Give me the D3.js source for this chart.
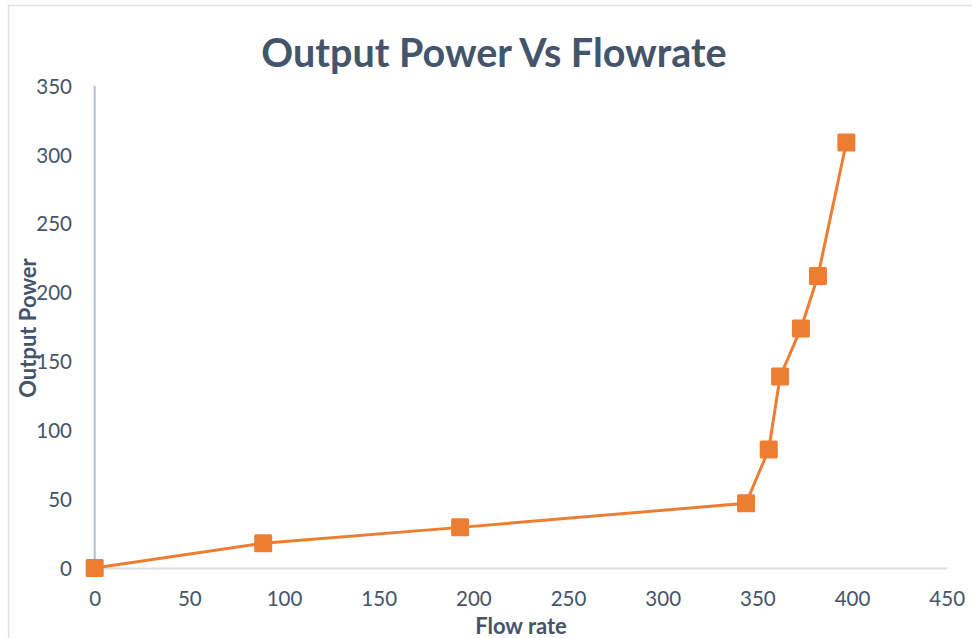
<!DOCTYPE html>
<html>
<head>
<meta charset="utf-8">
<script src="https://cdn.jsdelivr.net/npm/d3@7"></script>
<style>
    body { margin: 0; background: #fff; }
    svg { display: block; font-family: Lato, "Open Sans", sans-serif; }
</style>
</head>
<body>
<svg></svg>
<script>
// Data
let flowRate = [0, 89, 193, 344, 356, 362, 373, 382, 397]
let outputPower = [0, 18, 29.5, 47, 86, 139, 174, 212, 309]
let xTicks = [0, 50, 100, 150, 200, 250, 300, 350, 400, 450]
let yTicks = [0, 50, 100, 150, 200, 250, 300, 350]

let dataset = flowRate.map((d, i) => ({ x: d, y: outputPower[i] }))

// Dimensions
let width = 972
let height = 638
let textColor = '#44546a'
let orange = '#ed7d31'

let scale = {
    x: d3.scaleLinear().domain([0, 450]).range([94.7, 946.7]),
    y: d3.scaleLinear().domain([0, 350]).range([568, 86])
}

let svg = d3.select('svg')
    .attr('width', width)
    .attr('height', height)

// Chart frame (only top & left visible)
svg.append('rect')
    .attr('x', 8.5)
    .attr('y', 5.5)
    .attr('width', 1000)
    .attr('height', 700)
    .attr('fill', 'none')
    .attr('stroke', '#dde1e6')
    .attr('stroke-width', 1.5)

// X axis
let axisX = svg.append('g')
    .attr('transform', `translate(0,${scale.y(0)})`)
    .call(d3.axisBottom(scale.x).tickValues(xTicks).tickSize(0).tickPadding(23))
axisX.select('.domain').attr('stroke', '#d9dde4').attr('stroke-width', 2)
axisX.selectAll('text')
    .attr('fill', textColor)
    .style('font-size', '20.5px')
    .style('font-family', 'Lato, sans-serif')

// Y axis (labels only, line drawn at x = 0)
let axisY = svg.append('g')
    .attr('transform', 'translate(72,0)')
    .call(d3.axisLeft(scale.y).tickValues(yTicks).tickSize(0).tickPadding(0))
axisY.select('.domain').remove()
axisY.selectAll('text')
    .attr('fill', textColor)
    .attr('dy', '0.35em')
    .style('font-size', '20.5px')
    .style('font-family', 'Lato, sans-serif')

svg.append('line')
    .attr('x1', scale.x(0))
    .attr('x2', scale.x(0))
    .attr('y1', scale.y(350))
    .attr('y2', scale.y(0))
    .attr('stroke', '#b4bfd6')
    .attr('stroke-width', 2)

// Line
let line = d3.line()
    .x(d => scale.x(d.x))
    .y(d => scale.y(d.y))

svg.append('path')
    .datum(dataset)
    .attr('d', line)
    .attr('fill', 'none')
    .attr('stroke', orange)
    .attr('stroke-width', 3)

// Square markers
let size = 18
svg.selectAll('rect.marker')
    .data(dataset)
    .enter()
    .append('rect')
    .attr('class', 'marker')
    .attr('x', d => scale.x(d.x) - size / 2)
    .attr('y', d => scale.y(d.y) - size / 2)
    .attr('width', size)
    .attr('height', size)
    .attr('rx', 1.5)
    .attr('fill', orange)

// Title
svg.append('text')
    .attr('x', 494)
    .attr('y', 67)
    .attr('text-anchor', 'middle')
    .attr('fill', textColor)
    .style('font-size', '39.5px')
    .style('font-weight', 'bold')
    .text('Output Power Vs Flowrate')

// X label
svg.append('text')
    .attr('x', 521)
    .attr('y', 634)
    .attr('text-anchor', 'middle')
    .attr('fill', textColor)
    .style('font-size', '22px')
    .style('font-weight', 'bold')
    .text('Flow rate')

// Y label
svg.append('text')
    .attr('x', -328)
    .attr('y', 36)
    .attr('text-anchor', 'middle')
    .attr('transform', 'rotate(270)')
    .attr('fill', textColor)
    .style('font-size', '22px')
    .style('font-weight', 'bold')
    .text('Output Power')
</script>
</body>
</html>
